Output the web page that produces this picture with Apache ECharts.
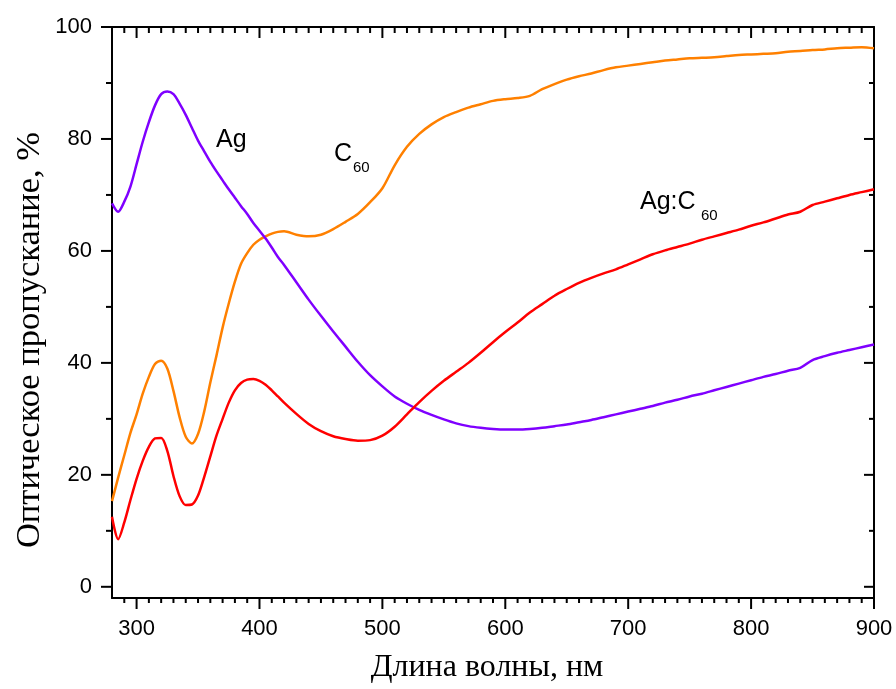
<!DOCTYPE html>
<html>
<head>
<meta charset="utf-8">
<script src="https://cdn.jsdelivr.net/npm/echarts@6/dist/echarts.min.js"></script>
<style>
  html, body { margin: 0; padding: 0; background: #fff; }
  #chart { width: 896px; height: 689px; }
</style>
</head>
<body>
<div id="chart"></div>
<script>
// Wavelength grid, nm
const wavelengths = [
  280, 285, 290, 295, 300, 305, 310, 315, 320, 325, 330, 335, 340, 345, 350,
  355, 360, 365, 370, 375, 380, 385, 390, 395, 400, 405, 410, 415, 420,
  430, 440, 450, 460, 470, 480, 490, 500, 510, 520, 530, 540, 550, 560, 570,
  580, 590, 600, 610, 620, 630, 640, 650, 660, 670, 680, 690, 700, 710, 720,
  730, 740, 750, 760, 770, 780, 790, 800, 810, 820, 830, 840, 850, 860, 870,
  880, 890, 900
];

// Transmittance, %
const agValues = [
  68.5, 67.0, 68.8, 71.5, 75.5, 79.5, 83.0, 86.0, 88.0, 88.5, 88.0, 86.3, 84.3, 82.0, 79.7,
  77.8, 75.9, 74.2, 72.6, 71.0, 69.5, 68.0, 66.6, 65.0, 63.6, 62.2, 60.6, 58.9, 57.5,
  54.4, 51.3, 48.4, 45.6, 42.9, 40.2, 37.8, 35.8, 34.0, 32.7, 31.6, 30.7, 29.9, 29.2, 28.7,
  28.4, 28.2, 28.1, 28.1, 28.2, 28.4, 28.7, 29.0, 29.4, 29.8, 30.3, 30.8, 31.3, 31.8, 32.3,
  32.9, 33.4, 34.0, 34.5, 35.1, 35.7, 36.3, 36.9, 37.5, 38.0, 38.6, 39.1, 40.5, 41.2, 41.8,
  42.3, 42.8, 43.3
];

const c60Values = [
  15.3, 19.5, 23.5, 27.5, 30.8, 34.5, 37.5, 39.8, 40.4, 39.0, 35.0, 30.3, 26.8, 25.6, 27.3,
  31.3, 36.5, 41.3, 46.3, 50.6, 54.5, 57.7, 59.6, 61.1, 62.0, 62.6, 63.1, 63.4, 63.5,
  62.9, 62.6, 62.9, 63.9, 65.2, 66.6, 68.7, 71.2, 75.3, 78.6, 80.9, 82.6, 83.9, 84.8, 85.6,
  86.2, 86.8, 87.1, 87.3, 87.7, 88.9, 89.8, 90.6, 91.2, 91.7, 92.3, 92.8, 93.1, 93.4, 93.7,
  94.0, 94.2, 94.4, 94.5, 94.6, 94.8, 95.0, 95.1, 95.2, 95.3, 95.6, 95.7, 95.9, 96.0, 96.2,
  96.3, 96.4, 96.2
];

const agC60Values = [
  12.5, 8.5, 11.5, 15.5, 19.3, 22.5, 25.0, 26.5, 26.6, 24.3, 19.8, 16.2, 14.6, 14.7, 16.3,
  19.6, 23.3, 27.0, 30.0, 32.9, 35.1, 36.4, 37.0, 37.1, 36.8, 36.1, 35.1, 34.0, 32.9,
  30.9, 29.1, 27.8, 26.9, 26.4, 26.1, 26.2, 27.0, 28.6, 30.8, 33.0, 35.0, 36.8, 38.4, 40.0,
  41.8, 43.7, 45.5, 47.2, 49.0, 50.5, 52.0, 53.2, 54.3, 55.2, 56.0, 56.7, 57.6, 58.5, 59.4,
  60.1, 60.7, 61.3, 62.0, 62.6, 63.2, 63.8, 64.5, 65.1, 65.8, 66.5, 67.0, 68.2, 68.8, 69.4,
  70.0, 70.5, 71.0
];

// Tick positions
const xMajorTicks = [300, 400, 500, 600, 700, 800, 900];
const xMinorTicks = [
  290, 310, 320, 330, 340, 350, 360, 370, 380, 390,
  410, 420, 430, 440, 450, 460, 470, 480, 490,
  510, 520, 530, 540, 550, 560, 570, 580, 590,
  610, 620, 630, 640, 650, 660, 670, 680, 690,
  710, 720, 730, 740, 750, 760, 770, 780, 790,
  810, 820, 830, 840, 850, 860, 870, 880, 890
];
const yMajorTicks = [0, 20, 40, 60, 80, 100];
const yMinorTicks = [10, 30, 50, 70, 90];

const X_MIN = 280, X_MAX = 900, Y_MIN = -2, Y_MAX = 100;

const zip = (xs, ys) => xs.map((x, i) => [x, ys[i]]);

const axisStroke = { color: '#000', width: 2 };

const tickLabelStyle = {
  show: true, color: '#000', fontSize: 22,
  fontFamily: 'Liberation Sans, Arial, sans-serif'
};

// Frame sides: axis line (+ labels on bottom/left); ticks are drawn by tickLayer.
function frameAxis(position, withLabels, labelValues) {
  const vertical = position === 'left' || position === 'right';
  return {
    type: 'value',
    position: position,
    min: vertical ? Y_MIN : X_MIN,
    max: vertical ? Y_MAX : X_MAX,
    splitLine: { show: false },
    axisLine: { show: true, onZero: false, lineStyle: axisStroke },
    axisTick: { show: false },
    minorTick: { show: false },
    axisLabel: withLabels
      ? Object.assign({ customValues: labelValues, margin: 20, hideOverlap: false }, tickLabelStyle)
      : { show: false }
  };
}

// Tick marks along one side of the frame, placed through the grid's coordinate system.
// len > 0 points out of the plot area, len < 0 into it.
function tickLayer(side, values, len) {
  return {
    type: 'custom',
    xAxisIndex: 0, yAxisIndex: 0,
    clip: false, silent: true, z: 4,
    data: values.map(v => [v, 0]),
    renderItem: function (params, api) {
      const v = api.value(0);
      let p, shape;
      if (side === 'bottom') {
        p = api.coord([v, Y_MIN]);
        shape = { x1: p[0], y1: p[1], x2: p[0], y2: p[1] + len };
      } else if (side === 'top') {
        p = api.coord([v, Y_MAX]);
        shape = { x1: p[0], y1: p[1], x2: p[0], y2: p[1] - len };
      } else if (side === 'left') {
        p = api.coord([X_MIN, v]);
        shape = { x1: p[0], y1: p[1], x2: p[0] - len, y2: p[1] };
      } else {
        p = api.coord([X_MAX, v]);
        shape = { x1: p[0], y1: p[1], x2: p[0] + len, y2: p[1] };
      }
      return { type: 'line', shape: shape, style: { stroke: '#000', lineWidth: 2 } };
    }
  };
}

const chart = echarts.init(document.getElementById('chart'), null, { renderer: 'canvas' });

const lineBase = {
  type: 'line', showSymbol: false, smooth: 0.3, xAxisIndex: 0, yAxisIndex: 0,
  clip: true, animation: false
};

const captionFont = 'Liberation Sans, Arial, sans-serif';
const titleFont = 'Liberation Serif, Times New Roman, serif';

chart.setOption({
  animation: false,
  backgroundColor: '#fff',
  grid: { left: 112, right: 22, top: 27, bottom: 91, containLabel: false },
  xAxis: [
    frameAxis('bottom', true, xMajorTicks),
    frameAxis('top', false)
  ],
  yAxis: [
    frameAxis('left', true, yMajorTicks),
    frameAxis('right', false)
  ],
  series: [
    Object.assign({}, lineBase, {
      name: 'C60', data: zip(wavelengths, c60Values),
      lineStyle: { color: '#ff8000', width: 2.5 }, itemStyle: { color: '#ff8000' }
    }),
    Object.assign({}, lineBase, {
      name: 'Ag', data: zip(wavelengths, agValues),
      lineStyle: { color: '#7f00ff', width: 2.5 }, itemStyle: { color: '#7f00ff' }
    }),
    Object.assign({}, lineBase, {
      name: 'Ag:C60', data: zip(wavelengths, agC60Values),
      lineStyle: { color: '#ff0000', width: 2.5 }, itemStyle: { color: '#ff0000' }
    }),
    // Bottom and left: ticks outside the frame; top and right: inside
    tickLayer('bottom', xMajorTicks, 11),
    tickLayer('bottom', xMinorTicks, 5),
    tickLayer('top', xMajorTicks, -11),
    tickLayer('top', xMinorTicks, -6),
    tickLayer('left', yMajorTicks, 11),
    tickLayer('left', yMinorTicks, 6),
    tickLayer('right', yMajorTicks, -10),
    tickLayer('right', yMinorTicks, -5)
  ],
  graphic: [
    // Curve captions
    { type: 'text', left: 216, top: 128, style: { text: 'Ag', fontSize: 25, fill: '#000', fontFamily: captionFont } },
    { type: 'text', left: 334, top: 142, style: { text: 'C', fontSize: 25, fill: '#000', fontFamily: captionFont } },
    { type: 'text', left: 353, top: 160, style: { text: '60', fontSize: 15, fill: '#000', fontFamily: captionFont } },
    { type: 'text', left: 640, top: 190, style: { text: 'Ag:C', fontSize: 25, fill: '#000', fontFamily: captionFont } },
    { type: 'text', left: 701, top: 208, style: { text: '60', fontSize: 15, fill: '#000', fontFamily: captionFont } },
    // Axis titles
    {
      type: 'text', x: 30, y: 340, rotation: Math.PI / 2,
      style: {
        text: 'Оптическое пропускание, %', fontSize: 34.5, fill: '#000',
        fontFamily: titleFont, align: 'center', verticalAlign: 'middle'
      }
    },
    {
      type: 'text', x: 487, y: 668,
      style: {
        text: 'Длина волны, нм', fontSize: 32, fill: '#000',
        fontFamily: titleFont, align: 'center', verticalAlign: 'middle'
      }
    }
  ]
});
</script>
</body>
</html>
